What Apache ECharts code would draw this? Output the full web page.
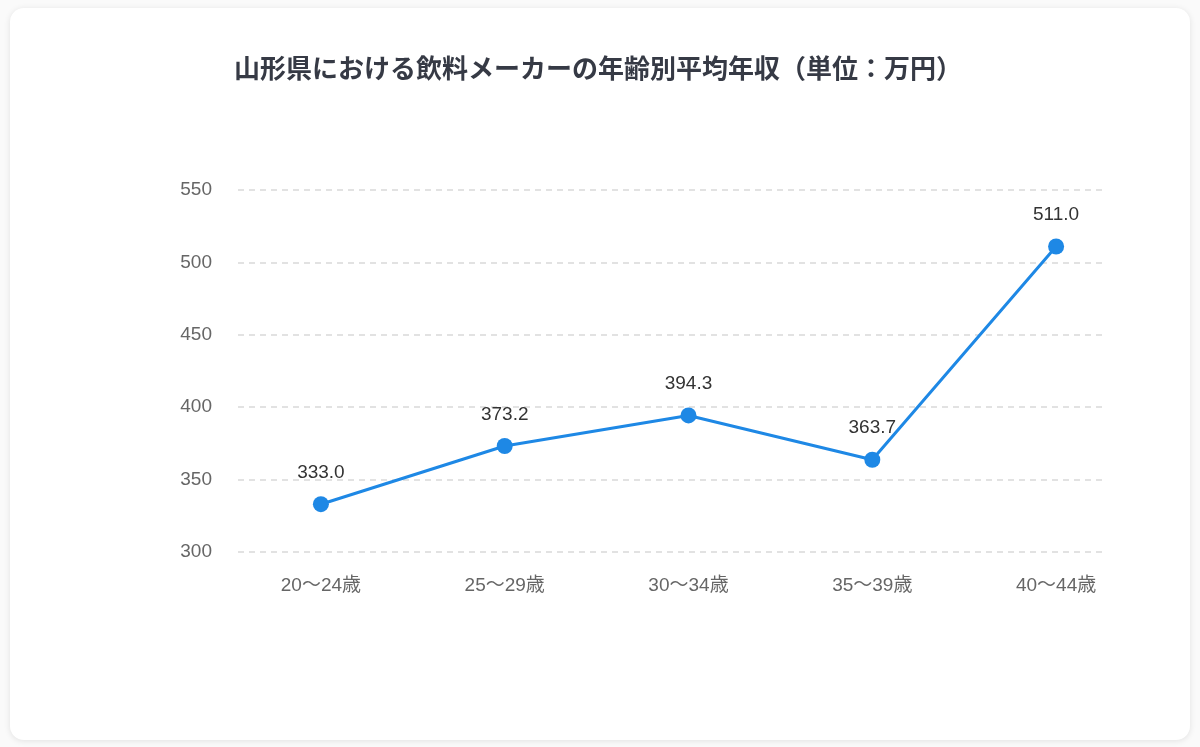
<!DOCTYPE html>
<html>
<head>
<meta charset="utf-8">
<script src="https://cdn.jsdelivr.net/npm/echarts@6/dist/echarts.min.js"></script>
<style>
html,body{margin:0;padding:0;width:1200px;height:747px;background:#fafafa;overflow:hidden;}
#card{position:absolute;left:10px;top:8px;width:1180px;height:732px;background:#fff;border-radius:14px;box-shadow:0 1px 6px rgba(0,0,0,0.10);}
#chart{position:absolute;left:0;top:0;width:1200px;height:747px;}
</style>
</head>
<body>
<div id="card"></div>
<div id="chart"></div>
<script>
const titleText = '山形県における飲料メーカーの年齢別平均年収（単位：万円）';
const categories = ['20～24歳', '25～29歳', '30～34歳', '35～39歳', '40～44歳'];
const salaries = [333.0, 373.2, 394.3, 363.7, 511.0];
const yMin = 300, yMax = 550, yStep = 50;

const font = '"Liberation Sans", Arial, "Noto Sans CJK JP", sans-serif';
const chart = echarts.init(document.getElementById('chart'), null, {renderer: 'canvas'});
chart.setOption({
  backgroundColor: 'transparent',
  animation: false,
  textStyle: {fontFamily: font},
  title: {
    text: titleText,
    left: 229, top: 50,
    textStyle: {fontSize: 26, fontWeight: 'bold', color: '#363a45', fontFamily: '"Noto Sans CJK JP", sans-serif'}
  },
  grid: [
    {left: 238, right: 98, top: 190, bottom: 195},
    {left: 229, right: 52, top: 190, bottom: 195}
  ],
  xAxis: [
    {gridIndex: 0, type: 'category', data: categories, show: false},
    {gridIndex: 1, type: 'category', data: categories, boundaryGap: true,
     axisLine: {show: false}, axisTick: {show: false},
     axisLabel: {color: '#666666', fontSize: 19, margin: 24, fontFamily: font}}
  ],
  yAxis: [
    {gridIndex: 0, type: 'value', min: yMin, max: yMax, interval: yStep,
     axisLine: {show: false}, axisTick: {show: false},
     axisLabel: {color: '#666666', fontSize: 19, margin: 26, fontFamily: font},
     splitLine: {show: true, lineStyle: {color: '#d9d9d9', type: [6, 5], width: 1.5}}},
    {gridIndex: 1, type: 'value', min: yMin, max: yMax, interval: yStep, show: false,
     splitLine: {show: false}}
  ],
  series: [{
    type: 'line',
    xAxisIndex: 1, yAxisIndex: 1,
    data: salaries,
    symbol: 'circle', symbolSize: 16,
    itemStyle: {color: '#1E88E5'},
    lineStyle: {color: '#1E88E5', width: 3},
    label: {show: true, position: 'top', distance: 14, color: '#333333', fontSize: 19,
      fontFamily: font,
      formatter: p => p.value.toFixed(1)}
  }]
});
</script>
</body>
</html>
